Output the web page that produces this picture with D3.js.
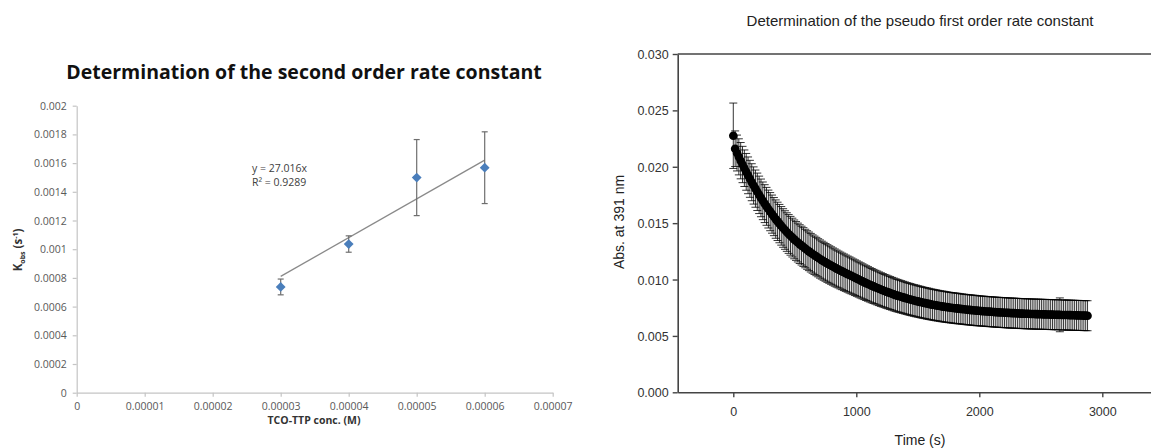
<!DOCTYPE html>
<html>
<head>
<meta charset="utf-8">
<script src="https://cdn.jsdelivr.net/npm/d3@7"></script>
<style>
  html, body { margin: 0; padding: 0; background: #fff; }
  svg { display: block; }
</style>
</head>
<body>
<svg id="chart" width="1151" height="448"></svg>
<script>
// ---- Second order rate constant (left panel) ----
const concM = [0.00003, 0.00004, 0.00005, 0.00006];
const kobs = [0.000737, 0.001036, 0.001499, 0.001568];
const kobsErr = [0.000055, 0.000057, 0.000265, 0.000250];
const slope = 27.016;
const leftXTicks = [0, 0.00001, 0.00002, 0.00003, 0.00004, 0.00005, 0.00006, 0.00007];
const leftXTickLabels = ["0", "0.00001", "0.00002", "0.00003", "0.00004", "0.00005", "0.00006", "0.00007"];
const leftYTicks = [0, 0.0002, 0.0004, 0.0006, 0.0008, 0.001, 0.0012, 0.0014, 0.0016, 0.0018, 0.002];
const leftYTickLabels = ["0", "0.0002", "0.0004", "0.0006", "0.0008", "0.001", "0.0012", "0.0014", "0.0016", "0.0018", "0.002"];

// ---- Pseudo first order decay (right panel), readings every 15 s ----
const timeS = [
  0, 15, 30, 45, 60, 75, 90, 105, 120, 135,
  150, 165, 180, 195, 210, 225, 240, 255, 270, 285,
  300, 315, 330, 345, 360, 375, 390, 405, 420, 435,
  450, 465, 480, 495, 510, 525, 540, 555, 570, 585,
  600, 615, 630, 645, 660, 675, 690, 705, 720, 735,
  750, 765, 780, 795, 810, 825, 840, 855, 870, 885,
  900, 915, 930, 945, 960, 975, 990, 1005, 1020, 1035,
  1050, 1065, 1080, 1095, 1110, 1125, 1140, 1155, 1170, 1185,
  1200, 1215, 1230, 1245, 1260, 1275, 1290, 1305, 1320, 1335,
  1350, 1365, 1380, 1395, 1410, 1425, 1440, 1455, 1470, 1485,
  1500, 1515, 1530, 1545, 1560, 1575, 1590, 1605, 1620, 1635,
  1650, 1665, 1680, 1695, 1710, 1725, 1740, 1755, 1770, 1785,
  1800, 1815, 1830, 1845, 1860, 1875, 1890, 1905, 1920, 1935,
  1950, 1965, 1980, 1995, 2010, 2025, 2040, 2055, 2070, 2085,
  2100, 2115, 2130, 2145, 2160, 2175, 2190, 2205, 2220, 2235,
  2250, 2265, 2280, 2295, 2310, 2325, 2340, 2355, 2370, 2385,
  2400, 2415, 2430, 2445, 2460, 2475, 2490, 2505, 2520, 2535,
  2550, 2565, 2580, 2595, 2610, 2625, 2640, 2655, 2670, 2685,
  2700, 2715, 2730, 2745, 2760, 2775, 2790, 2805, 2820, 2835,
  2850, 2865, 2880
];
const absorbance = [
  0.02275, 0.02160, 0.02122, 0.02088, 0.02054, 0.02020, 0.01987, 0.01955, 0.01924, 0.01893,
  0.01863, 0.01834, 0.01806, 0.01778, 0.01751, 0.01724, 0.01698, 0.01673, 0.01649, 0.01625,
  0.01602, 0.01580, 0.01558, 0.01536, 0.01516, 0.01496, 0.01476, 0.01457, 0.01439, 0.01421,
  0.01404, 0.01388, 0.01372, 0.01356, 0.01342, 0.01328, 0.01314, 0.01301, 0.01288, 0.01275,
  0.01262, 0.01250, 0.01238, 0.01226, 0.01215, 0.01204, 0.01193, 0.01182, 0.01172, 0.01162,
  0.01152, 0.01142, 0.01133, 0.01124, 0.01115, 0.01106, 0.01097, 0.01089, 0.01080, 0.01072,
  0.01064, 0.01056, 0.01048, 0.01040, 0.01032, 0.01024, 0.01016, 0.01008, 0.01000, 0.00992,
  0.00984, 0.00976, 0.00968, 0.00961, 0.00953, 0.00946, 0.00939, 0.00932, 0.00925, 0.00918,
  0.00911, 0.00905, 0.00898, 0.00892, 0.00886, 0.00880, 0.00874, 0.00868, 0.00862, 0.00857,
  0.00852, 0.00847, 0.00842, 0.00837, 0.00832, 0.00827, 0.00823, 0.00818, 0.00814, 0.00810,
  0.00806, 0.00802, 0.00798, 0.00794, 0.00791, 0.00787, 0.00784, 0.00780, 0.00777, 0.00774,
  0.00771, 0.00768, 0.00765, 0.00762, 0.00760, 0.00757, 0.00755, 0.00752, 0.00750, 0.00748,
  0.00746, 0.00744, 0.00742, 0.00740, 0.00738, 0.00736, 0.00734, 0.00732, 0.00731, 0.00729,
  0.00727, 0.00726, 0.00724, 0.00723, 0.00721, 0.00720, 0.00719, 0.00717, 0.00716, 0.00715,
  0.00714, 0.00712, 0.00711, 0.00710, 0.00709, 0.00708, 0.00707, 0.00706, 0.00705, 0.00704,
  0.00703, 0.00702, 0.00702, 0.00701, 0.00700, 0.00699, 0.00698, 0.00698, 0.00697, 0.00696,
  0.00696, 0.00695, 0.00694, 0.00694, 0.00693, 0.00693, 0.00692, 0.00692, 0.00691, 0.00691,
  0.00690, 0.00690, 0.00689, 0.00689, 0.00688, 0.00688, 0.00687, 0.00687, 0.00686, 0.00686,
  0.00685, 0.00685, 0.00684, 0.00684, 0.00683, 0.00683, 0.00682, 0.00682, 0.00681, 0.00681,
  0.00680, 0.00680, 0.00679
];
const absorbanceErr = [
  0.00290, 0.00158, 0.00159, 0.00160, 0.00161, 0.00161, 0.00162, 0.00163, 0.00163, 0.00164,
  0.00164, 0.00165, 0.00165, 0.00166, 0.00166, 0.00167, 0.00167, 0.00168, 0.00168, 0.00168,
  0.00169, 0.00169, 0.00169, 0.00170, 0.00170, 0.00170, 0.00171, 0.00171, 0.00171, 0.00171,
  0.00172, 0.00172, 0.00172, 0.00172, 0.00172, 0.00172, 0.00172, 0.00172, 0.00172, 0.00171,
  0.00171, 0.00171, 0.00171, 0.00170, 0.00170, 0.00170, 0.00169, 0.00169, 0.00168, 0.00168,
  0.00167, 0.00167, 0.00166, 0.00166, 0.00165, 0.00165, 0.00164, 0.00163, 0.00163, 0.00162,
  0.00162, 0.00161, 0.00160, 0.00160, 0.00159, 0.00158, 0.00158, 0.00157, 0.00156, 0.00156,
  0.00155, 0.00154, 0.00154, 0.00153, 0.00152, 0.00152, 0.00151, 0.00150, 0.00150, 0.00149,
  0.00149, 0.00148, 0.00147, 0.00147, 0.00146, 0.00146, 0.00145, 0.00145, 0.00144, 0.00144,
  0.00143, 0.00143, 0.00142, 0.00142, 0.00141, 0.00141, 0.00141, 0.00140, 0.00140, 0.00140,
  0.00139, 0.00139, 0.00139, 0.00138, 0.00138, 0.00138, 0.00138, 0.00137, 0.00137, 0.00137,
  0.00137, 0.00136, 0.00136, 0.00136, 0.00136, 0.00136, 0.00135, 0.00135, 0.00135, 0.00135,
  0.00135, 0.00135, 0.00135, 0.00134, 0.00134, 0.00134, 0.00134, 0.00134, 0.00134, 0.00134,
  0.00134, 0.00134, 0.00134, 0.00133, 0.00133, 0.00133, 0.00133, 0.00133, 0.00133, 0.00133,
  0.00133, 0.00133, 0.00133, 0.00133, 0.00133, 0.00133, 0.00133, 0.00133, 0.00133, 0.00133,
  0.00133, 0.00133, 0.00133, 0.00133, 0.00133, 0.00133, 0.00133, 0.00133, 0.00133, 0.00133,
  0.00133, 0.00133, 0.00133, 0.00133, 0.00133, 0.00133, 0.00133, 0.00133, 0.00133, 0.00133,
  0.00133, 0.00133, 0.00133, 0.00133, 0.00133, 0.00133, 0.00133, 0.00150, 0.00133, 0.00133,
  0.00133, 0.00133, 0.00133, 0.00133, 0.00133, 0.00133, 0.00133, 0.00133, 0.00133, 0.00133,
  0.00133, 0.00133, 0.00133
];
const rightXTicks = [0, 1000, 2000, 3000];
const rightYTicks = [0, 0.005, 0.010, 0.015, 0.020, 0.025, 0.030];

const svg = d3.select("#chart");

// ================= Left panel =================
const xL = d3.scaleLinear().domain([0, 0.00007]).range([76.7, 552.7]);
const yL = d3.scaleLinear().domain([0, 0.002]).range([392.7, 105.7]);
const leftFont = "'Open Sans', 'Liberation Sans', sans-serif";
const axisGrey = "#c4c4c4";
const labelGrey = "#595959";

const gL = svg.append("g");

const xAxisL = d3.axisBottom(xL)
  .tickValues(leftXTicks)
  .tickFormat((d, i) => leftXTickLabels[i])
  .tickSizeInner(4).tickSizeOuter(0).tickPadding(6);
const xgL = gL.append("g").attr("transform", `translate(0,${yL(0)})`).call(xAxisL);
const yAxisL = d3.axisLeft(yL)
  .tickValues(leftYTicks)
  .tickFormat((d, i) => leftYTickLabels[i])
  .tickSizeInner(4).tickSizeOuter(0).tickPadding(6);
const ygL = gL.append("g").attr("transform", `translate(${xL(0)},0)`).call(yAxisL);
[xgL, ygL].forEach(g => {
  g.select(".domain").attr("stroke", axisGrey).attr("stroke-width", 1.2);
  g.selectAll(".tick line").attr("stroke", axisGrey).attr("stroke-width", 1.2);
  g.selectAll(".tick text").attr("fill", labelGrey).attr("font-family", leftFont).attr("font-size", 10.5);
});
ygL.selectAll(".tick text").attr("dy", "0.34em");

// trendline through origin, drawn across the measured range
gL.append("line")
  .attr("x1", xL(d3.min(concM))).attr("y1", yL(slope * d3.min(concM)))
  .attr("x2", xL(d3.max(concM))).attr("y2", yL(slope * d3.max(concM)))
  .attr("stroke", "#8a8a8a").attr("stroke-width", 1.3);

// error bars
const ebL = gL.append("g").attr("stroke", "#6e6e6e").attr("stroke-width", 1.2);
concM.forEach((c, i) => {
  const x = xL(c), yt = yL(kobs[i] + kobsErr[i]), yb = yL(kobs[i] - kobsErr[i]);
  ebL.append("line").attr("x1", x).attr("x2", x).attr("y1", yt).attr("y2", yb);
  ebL.append("line").attr("x1", x - 3).attr("x2", x + 3).attr("y1", yt).attr("y2", yt);
  ebL.append("line").attr("x1", x - 3).attr("x2", x + 3).attr("y1", yb).attr("y2", yb);
});

// diamond markers
const diamond = d3.symbol().type(d3.symbolSquare).size(48);
gL.append("g").selectAll("path").data(concM).join("path")
  .attr("d", diamond)
  .attr("transform", (d, i) => `translate(${xL(d)},${yL(kobs[i])}) rotate(45)`)
  .attr("fill", "#4a7ebb");

// equation label
gL.append("text").attr("font-family", leftFont).attr("font-size", 10.5).attr("fill", "#404040")
  .attr("x", 252).attr("y", 172).text("y = 27.016x");
gL.append("text").attr("font-family", leftFont).attr("font-size", 10.5).attr("fill", "#404040")
  .attr("x", 252).attr("y", 186).text("R² = 0.9289");

// titles
gL.append("text")
  .attr("x", 304).attr("y", 79).attr("text-anchor", "middle")
  .attr("font-family", leftFont).attr("font-weight", "bold").attr("font-size", 19.5)
  .attr("fill", "#111").text("Determination of the second order rate constant");

gL.append("text")
  .attr("x", 314).attr("y", 424).attr("text-anchor", "middle")
  .attr("font-family", leftFont).attr("font-weight", "bold").attr("font-size", 10.5)
  .attr("fill", "#333").text("TCO-TTP conc. (M)");

const yLab = gL.append("text")
  .attr("transform", "translate(22,250) rotate(-90)")
  .attr("text-anchor", "middle")
  .attr("font-family", leftFont).attr("font-weight", "bold").attr("font-size", 11.5)
  .attr("fill", "#333");
yLab.append("tspan").text("K");
yLab.append("tspan").attr("font-size", 7).attr("dy", 3).text("obs");
yLab.append("tspan").attr("dy", -3).text(" (s");
yLab.append("tspan").attr("font-size", 7).attr("dy", -4).text("-1");
yLab.append("tspan").attr("dy", 4).text(")");

// ================= Right panel =================
const xR = d3.scaleLinear().domain([-452, 3400]).range([677.7, 1151.5]);
const yR = d3.scaleLinear().domain([0, 0.030]).range([392.3, 54]);
const rightFont = "'Liberation Sans', Arial, sans-serif";
const gR = svg.append("g");

const xAxisR = d3.axisBottom(xR).tickValues(rightXTicks).tickFormat(d3.format("d"))
  .tickSizeInner(5).tickSizeOuter(0).tickPadding(10);
const yAxisR = d3.axisLeft(yR).tickValues(rightYTicks).tickFormat(d3.format(".3f"))
  .tickSizeInner(5).tickSizeOuter(0).tickPadding(4);
const xgR = gR.append("g").attr("transform", `translate(0,${yR(0)})`).call(xAxisR);
const ygR = gR.append("g").attr("transform", `translate(${xR(-452)},0)`).call(yAxisR);
[xgR, ygR].forEach(g => {
  g.select(".domain").attr("stroke", "#444").attr("stroke-width", 1.6);
  g.selectAll(".tick line").attr("stroke", "#444").attr("stroke-width", 1.4);
  g.selectAll(".tick text").attr("fill", "#333").attr("font-family", rightFont).attr("font-size", 12.5);
});
ygR.selectAll(".tick text").attr("dy", "0.36em");

// top frame edge
gR.append("line")
  .attr("x1", xR(-452)).attr("x2", xR(3400)).attr("y1", yR(0.030)).attr("y2", yR(0.030))
  .attr("stroke", "#444").attr("stroke-width", 1.6);

// error bars
const ebR = gR.append("g").attr("stroke", "#000").attr("stroke-width", 0.8);
timeS.forEach((t, i) => {
  const x = xR(t), yt = yR(absorbance[i] + absorbanceErr[i]), yb = yR(absorbance[i] - absorbanceErr[i]);
  ebR.append("line").attr("x1", x).attr("x2", x).attr("y1", yt).attr("y2", yb);
  ebR.append("line").attr("x1", x - 4).attr("x2", x + 4).attr("y1", yt).attr("y2", yt);
  ebR.append("line").attr("x1", x - 4).attr("x2", x + 4).attr("y1", yb).attr("y2", yb);
});

// data points
gR.append("g").selectAll("circle").data(timeS).join("circle")
  .attr("cx", d => xR(d)).attr("cy", (d, i) => yR(absorbance[i]))
  .attr("r", 4.3).attr("fill", "#000");

gR.append("text")
  .attr("x", 920).attr("y", 26).attr("text-anchor", "middle")
  .attr("font-family", rightFont).attr("font-size", 15).attr("fill", "#222")
  .text("Determination of the pseudo first order rate constant");

gR.append("text")
  .attr("x", 920).attr("y", 445).attr("text-anchor", "middle")
  .attr("font-family", rightFont).attr("font-size", 14).attr("fill", "#222")
  .text("Time (s)");

gR.append("text")
  .attr("transform", "translate(624,222) rotate(-90)")
  .attr("text-anchor", "middle")
  .attr("font-family", rightFont).attr("font-size", 14).attr("fill", "#222")
  .text("Abs. at 391 nm");
</script>
</body>
</html>
